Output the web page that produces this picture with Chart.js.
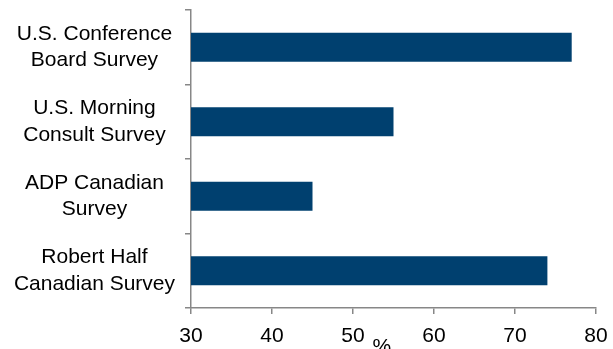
<!DOCTYPE html>
<html>
<head>
<meta charset="utf-8">
<script src="https://cdn.jsdelivr.net/npm/chart.js@4/dist/chart.umd.min.js"></script>
<style>
  html, body { margin: 0; padding: 0; background: #ffffff; }
  #wrap { width: 613px; height: 349px; position: relative; }
</style>
</head>
<body>
<div id="wrap"><canvas id="chart"></canvas></div>
<script>
  'use strict';

  // survey names (two lines each) and share in %
  var categories = [
    ['U.S. Conference', 'Board Survey'],
    ['U.S. Morning', 'Consult Survey'],
    ['ADP Canadian', 'Survey'],
    ['Robert Half', 'Canadian Survey']
  ];
  var values = [77, 55, 45, 74];
  var xTicks = [30, 40, 50, 60, 70, 80];
  var xTitle = '%';

  var AXIS_COLOR = '#878787';
  var BAR_COLOR = '#00406F';
  var FONT = { family: "'Liberation Sans', Arial, sans-serif", size: 21, lineHeight: 1.27 };

  Chart.defaults.color = '#000000';
  Chart.defaults.font.family = FONT.family;

  var ctx = document.getElementById('chart').getContext('2d');
  var surveyChart = new Chart(ctx, {
    type: 'bar',
    data: {
      labels: categories,
      datasets: [{
        data: values,
        backgroundColor: BAR_COLOR,
        borderWidth: 0,
        categoryPercentage: 1,
        barPercentage: 0.39
      }]
    },
    options: {
      indexAxis: 'y',
      responsive: true,
      maintainAspectRatio: false,
      animation: false,
      layout: {
        padding: { top: 10, right: 17, left: 0, bottom: 0 }
      },
      plugins: {
        legend: { display: false },
        tooltip: { enabled: false }
      },
      scales: {
        x: {
          type: 'linear',
          min: xTicks[0],
          max: xTicks[xTicks.length - 1],
          afterBuildTicks: function(scale) {
            scale.ticks = xTicks.map(function(v) { return { value: v }; });
          },
          afterFit: function(scale) {
            scale.height = 41;
            // keep the plot reaching to x = 596 whatever the "80" label needs
            scale.paddingRight = 0;
            scale.paddingLeft = 0;
          },
          border: { color: AXIS_COLOR, width: 1.5 },
          grid: {
            drawOnChartArea: false,
            drawTicks: true,
            tickLength: 6,
            color: AXIS_COLOR,
            lineWidth: 1.5
          },
          ticks: {
            font: FONT,
            padding: 9,
            maxRotation: 0
          },
          title: {
            display: true,
            text: xTitle + '    ',
            font: FONT,
            padding: { top: 0, bottom: -12 }
          }
        },
        y: {
          afterFit: function(scale) {
            scale.width = 191;
            // the labels sit in the middle of their bands, no overhang needed
            scale.paddingTop = 0;
            scale.paddingBottom = 0;
          },
          border: { color: AXIS_COLOR, width: 1.5 },
          grid: {
            offset: true,
            drawOnChartArea: false,
            drawTicks: true,
            tickLength: 6,
            color: AXIS_COLOR,
            lineWidth: 1.5
          },
          ticks: {
            font: FONT,
            crossAlign: 'center',
            padding: 10
          }
        }
      }
    }
  });
</script>
</body>
</html>
